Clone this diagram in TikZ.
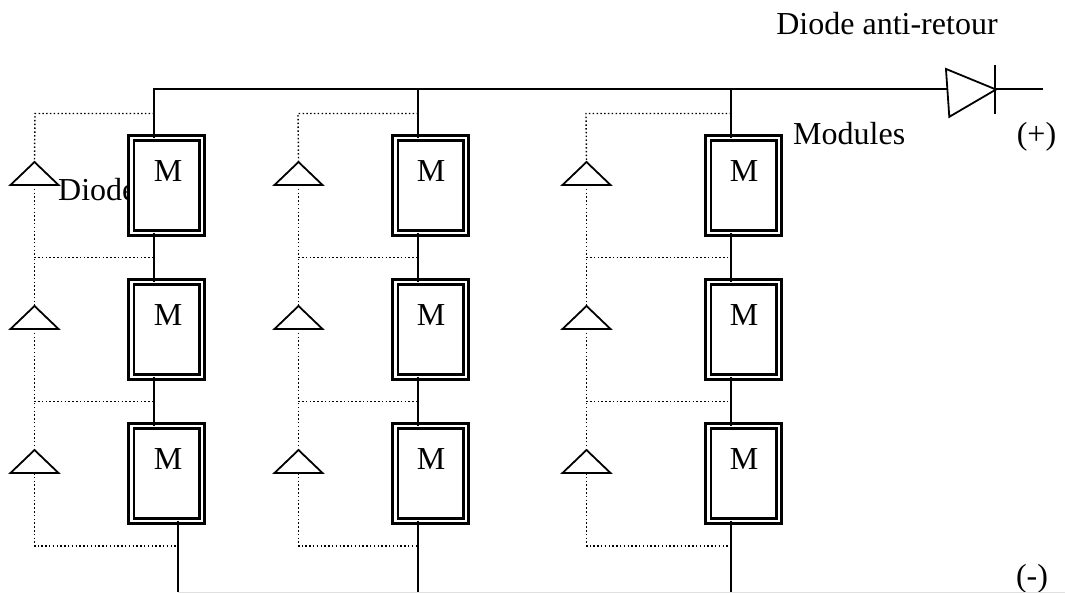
\documentclass[tikz,border=0pt]{standalone}
\usepackage{fontspec}
\setmainfont{Liberation Serif}
\usetikzlibrary{shapes.geometric}

\tikzset{
	module/.style={draw,double,line width=2.7pt,double distance=2.6pt,fill=white,outer sep=0pt,inner sep=0pt,minimum width=70.8pt,minimum height=95pt},
	tri/.style={draw,line width=1.8pt,isosceles triangle,shape border rotate=90,isosceles triangle stretches,inner sep=0pt,outer sep=0pt,minimum width=48pt,minimum height=23pt},
	wire/.style={line width=2pt},
	dot/.style={line width=1.4pt,dash pattern=on 1.5pt off 2.3pt},
	txt/.style={font=\fontsize{32}{36}\selectfont,inner sep=0pt}
}

\begin{document}
\begin{tikzpicture}[x=1pt,y=-1pt]
			\useasboundingbox (0,0) rectangle (1065,593);
			\coordinate (j1) at (154,89.5);
			\coordinate (j2) at (418,89.5);
			\coordinate (j3) at (731,89.5);
			\coordinate (end) at (1043,89.5);
			\coordinate (b1) at (178,592);
			\coordinate (b2) at (418,592);
			\coordinate (b3) at (731,592);
			\coordinate (bend) at (1065,592);
			\coordinate (d1) at (35,113.5);
			\coordinate (d2) at (298,113.5);
			\coordinate (d3) at (586,113.5);

			\node[txt,anchor=base west] (diodelabel) at (58,201) {Diode};
			\node[txt,anchor=base] (antilabel) at (887,35) {Diode anti-retour};
			\node[txt,anchor=base west] (modlabel) at (793,145) {Modules};
			\node[txt,anchor=base] (plus) at (1036.5,145) {(+)};
			\node[txt,anchor=base] (minus) at (1032,586) {(-)};

			\node[module] (m11) at (166.6,185.4) {};
			\node[module] (m21) at (166.6,329.4) {};
			\node[module] (m31) at (166.6,473.4) {};
			\node[module] (m12) at (430.6,185.4) {};
			\node[module] (m22) at (430.6,329.4) {};
			\node[module] (m32) at (430.6,473.4) {};
			\node[module] (m13) at (743.6,185.4) {};
			\node[module] (m23) at (743.6,329.4) {};
			\node[module] (m33) at (743.6,473.4) {};

			\node[txt] (t11) at (168,171) {M};
			\node[txt] (t21) at (168,315) {M};
			\node[txt] (t31) at (168,459) {M};
			\node[txt] (t12) at (431,171) {M};
			\node[txt] (t22) at (431,315) {M};
			\node[txt] (t32) at (431,459) {M};
			\node[txt] (t13) at (744,171) {M};
			\node[txt] (t23) at (744,315) {M};
			\node[txt] (t33) at (744,459) {M};

			\node[tri,anchor=apex] (a11) at (34.5,162) {};
			\node[tri,anchor=apex] (a21) at (34.5,306) {};
			\node[tri,anchor=apex] (a31) at (34.5,450) {};
			\node[tri,anchor=apex] (a12) at (298.5,162) {};
			\node[tri,anchor=apex] (a22) at (298.5,306) {};
			\node[tri,anchor=apex] (a32) at (298.5,450) {};
			\node[tri,anchor=apex] (a13) at (586.5,162) {};
			\node[tri,anchor=apex] (a23) at (586.5,306) {};
			\node[tri,anchor=apex] (a33) at (586.5,450) {};

			\node[draw,line width=1.8pt,isosceles triangle,isosceles triangle stretches,inner sep=0pt,outer sep=0pt,minimum width=48pt,minimum height=48.5pt,rotate=4,anchor=apex] (dio) at (996,89.5) {};
			\coordinate (diok) at (995,89.5);

			\draw[wire] (j1 |- m11.north) -- (j1) -- (dio.west |- j1);
			\draw[wire] (j2) -- (j2 |- m12.north);
			\draw[wire] (j3) -- (j3 |- m13.north);
			\draw[wire] (diok) -- (end);
			\draw[wire] ([yshift=-24.5pt]diok) -- ([yshift=24.5pt]diok);

			\draw[wire] (j1 |- m11.south) -- (j1 |- m21.north);
			\draw[wire] (j1 |- m21.south) -- (j1 |- m31.north);
			\draw[wire] (j2 |- m12.south) -- (j2 |- m22.north);
			\draw[wire] (j2 |- m22.south) -- (j2 |- m32.north);
			\draw[wire] (j3 |- m13.south) -- (j3 |- m23.north);
			\draw[wire] (j3 |- m23.south) -- (j3 |- m33.north);
			\draw[wire] (b1 |- m31.south) -- (b1);
			\draw[wire] (b2 |- m32.south) -- (b2);
			\draw[wire] (b3 |- m33.south) -- (b3);
			\draw[line width=1pt,black!12] (b1) -- (bend);

			\draw[dot] (j1 |- d1) -- (d1) -- (a11.apex);
			\draw[dot] (j2 |- d2) -- (d2) -- (a12.apex);
			\draw[dot] (j3 |- d3) -- (d3) -- (a13.apex);
			\draw[dot] (a11.south) |- (j1 |- 0,257.5);
			\draw[dot] (a21.south) |- (j1 |- 0,401.5);
			\draw[dot] (a12.south) |- (j2 |- 0,257.5);
			\draw[dot] (a22.south) |- (j2 |- 0,401.5);
			\draw[dot] (a13.south) |- (j3 |- 0,257.5);
			\draw[dot] (a23.south) |- (j3 |- 0,401.5);
			\draw[dot] (a21.apex) -- (a21.apex |- 0,257.5);
			\draw[dot] (a31.apex) -- (a31.apex |- 0,401.5);
			\draw[dot] (a22.apex) -- (a22.apex |- 0,257.5);
			\draw[dot] (a32.apex) -- (a32.apex |- 0,401.5);
			\draw[dot] (a23.apex) -- (a23.apex |- 0,257.5);
			\draw[dot] (a33.apex) -- (a33.apex |- 0,401.5);
			\draw[dot] (a31.south) |- (b1 |- 0,546);
			\draw[dot] (a32.south) |- (b2 |- 0,546);
			\draw[dot] (a33.south) |- (b3 |- 0,546);
		\end{tikzpicture}
\end{document}
